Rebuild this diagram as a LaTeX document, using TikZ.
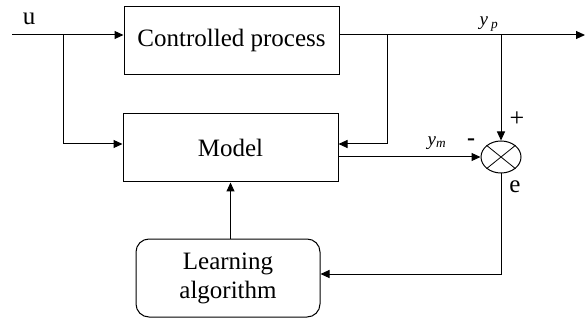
\documentclass[tikz,border=0pt]{standalone}
\usepackage{fontspec}
\setmainfont{Liberation Serif}
\usetikzlibrary{arrows.meta,shapes.geometric}
\tikzset{
 blk/.style={draw,line width=1pt,minimum width=215pt,minimum height=68pt,font=\fontsize{25}{29}\selectfont},
 sig/.style={line width=1pt,-{Triangle[length=9pt,width=8pt]}},
 lbl/.style={font=\fontsize{25}{28}\selectfont},
 sub/.style={font=\fontsize{19}{21}\selectfont}
}
\begin{document}
\begin{tikzpicture}[x=1pt,y=-1pt]
 \useasboundingbox (0,0) rectangle (585,320);
 \node [blk] (cp) at (231.5,40.5) {Controlled process};
 \node [blk] (model) at (230.5,148) {Model};
 \node [blk,rounded corners=13pt,minimum width=184pt,minimum height=78pt,align=center] (learn) at (228,278) {Learning\\algorithm};
 \node [draw,line width=1pt,ellipse,inner sep=0pt,minimum width=40pt,minimum height=32pt] (sum) at (501,157) {};
 \draw [line width=0.8pt] (sum.north west) -- (sum.south east) (sum.north east) -- (sum.south west);
 \coordinate (in) at (12,35);
 \coordinate (ubr) at (63,35);
 \coordinate (ybr) at (387,35);
 \coordinate (ysum) at (501,35);
 \coordinate (out) at (585,35);
 \draw [sig] (in) -- (in -| cp.west);
 \draw [sig] (ubr) |- ([yshift=4pt]model.west);
 \draw [sig] (in -| cp.east) -- (out);
 \draw [sig] (ybr) |- ([yshift=4pt]model.east);
 \draw [sig] (ysum) -- (sum.north);
 \draw [sig] (sum.west -| model.east) -- (sum.west);
 \draw [sig] (sum.south) |- ([yshift=4pt]learn.east);
 \draw [sig] (model.south |- learn.north) -- (model.south);
 \node [lbl] (u) at (29,19) {u};
 \node [sub] (yp) at (489,24) {\textit{y}\,\textsubscript{\textit{p}}};
 \node [sub] (ym) at (437,143) {\textit{y}\textsubscript{\textit{m}}};
 \node [font=\fontsize{26}{28}\selectfont] (plus) at (517,119) {+};
 \node [font=\fontsize{24}{26}\selectfont\bfseries] (minus) at (471,142) {-};
 \node [lbl] (e) at (515,187) {e};
\end{tikzpicture}
\end{document}
